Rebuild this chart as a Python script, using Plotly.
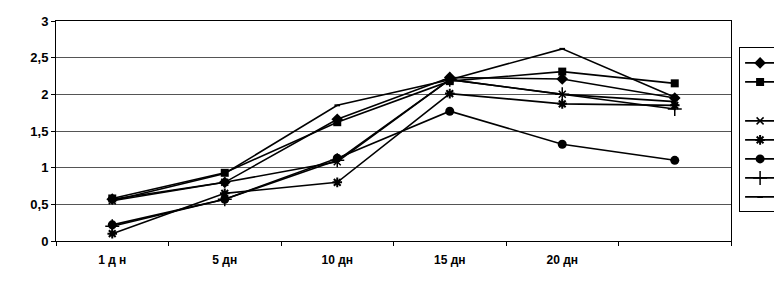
import plotly.graph_objects as go

categories = ["1 д н", "5 дн", "10 дн", "15 дн", "20 дн", " "]

s_diamond = [0.57, 0.80, 1.66, 2.23, 2.21, 1.95]
s_square = [0.58, 0.93, 1.62, 2.18, 2.31, 2.15]
s_x = [0.55, 0.80, 1.08, 2.20, 2.00, 1.90]
s_star = [0.10, 0.65, 0.80, 2.01, 1.87, 1.85]
s_circle = [0.22, 0.57, 1.13, 1.77, 1.32, 1.10]
s_plus = [0.20, 0.57, 1.10, 2.20, 2.00, 1.80]
s_dash = [0.55, 0.92, 1.85, 2.20, 2.62, 1.96]

y_tickvals = [0, 0.5, 1, 1.5, 2, 2.5, 3]
y_ticktext = ["0", "0,5", "1", "1,5", "2", "2,5", "3"]

series = [
    (s_diamond, dict(symbol="diamond", size=9, color="black"), "a"),
    (s_square, dict(symbol="square", size=8, color="black"), "a"),
    (s_x, dict(symbol="x-thin-open", size=7, color="black", line=dict(width=1.5, color="black")), "b"),
    (s_star, dict(symbol="asterisk-open", size=8, color="black", line=dict(width=2, color="black")), "b"),
    (s_circle, dict(symbol="circle", size=9, color="black"), "b"),
    (s_plus, dict(symbol="cross-thin-open", size=10, color="black", line=dict(width=1.5, color="black")), "b"),
    (s_dash, dict(symbol="line-ew-open", size=4, color="black", line=dict(width=2, color="black")), "b"),
]

fig = go.Figure()
for vals, mk, grp in series:
    fig.add_trace(go.Scatter(
        x=categories[:len(vals)], y=vals, mode="lines+markers",
        name="", marker=mk, line=dict(color="black", width=1.6),
        legendgroup=grp, showlegend=True,
    ))

fig.update_layout(
    width=774, height=283,
    margin=dict(l=56, r=43, t=21, b=42, autoexpand=False),
    paper_bgcolor="white", plot_bgcolor="white",
    font=dict(family="Liberation Sans, Arial, sans-serif", size=12, color="black"),
    showlegend=True,
    legend=dict(
        x=1.012, y=0.88, xanchor="left", yanchor="top",
        bordercolor="black", borderwidth=1, bgcolor="white",
        traceorder="grouped", tracegroupgap=20, itemwidth=30,
        font=dict(size=12),
    ),
    xaxis=dict(
        type="category", categoryorder="array", categoryarray=categories,
        range=[-0.5, 5.5],
        showline=True, linecolor="black", linewidth=1, mirror=True,
        ticks="outside", ticklen=4, tickcolor="black", tickson="boundaries",
        showgrid=False, tickfont=dict(size=12, weight="bold"),
        ticklabelstandoff=8,
    ),
    yaxis=dict(
        range=[0, 3], tickvals=y_tickvals, ticktext=y_ticktext,
        showline=True, linecolor="black", linewidth=1, mirror=True,
        ticks="outside", ticklen=4, tickcolor="black",
        showgrid=True, gridcolor="#555555", gridwidth=1,
        zeroline=False, tickfont=dict(size=13, weight="bold"),
    ),
)

fig.write_html("out.html")
